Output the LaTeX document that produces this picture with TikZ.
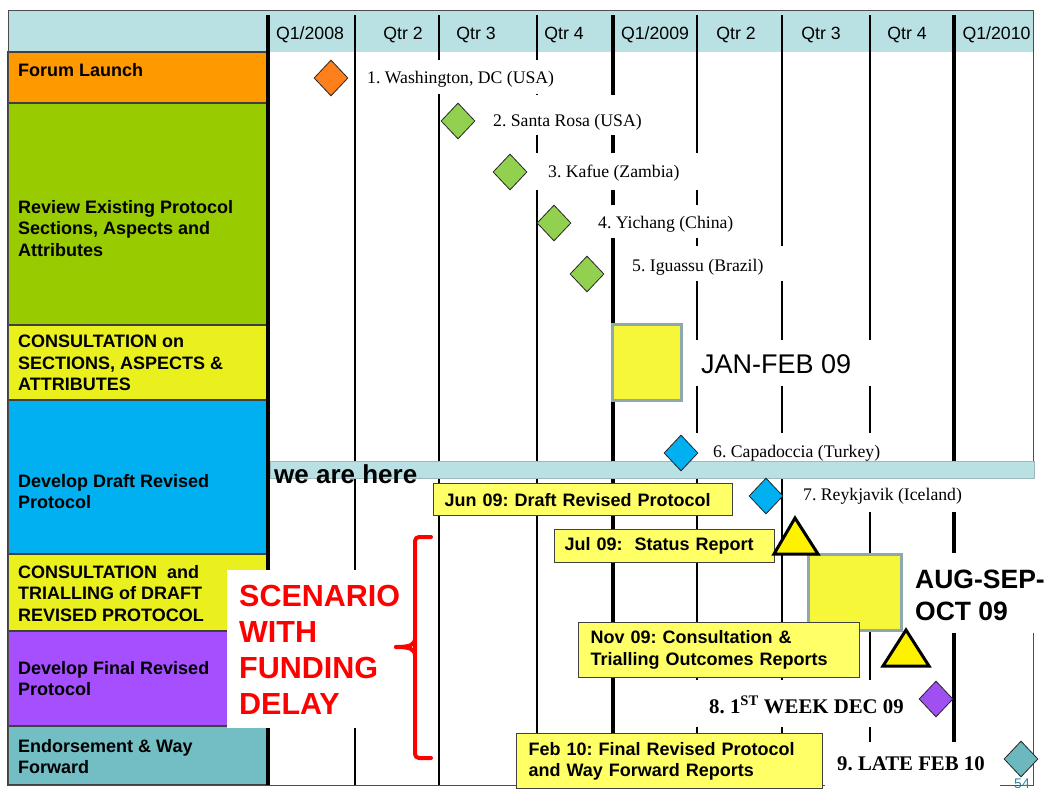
\documentclass[tikz,border=0pt]{standalone}
\usepackage{fontspec}
\setmainfont{Liberation Serif}
\setsansfont{Liberation Sans}
\usetikzlibrary{shapes.geometric}
\definecolor{hdrc}{HTML}{B9E0E3}
\definecolor{corange}{HTML}{FF9900}
\definecolor{cgreen}{HTML}{99CC00}
\definecolor{cyellow}{HTML}{EAEF1E}
\definecolor{cblue}{HTML}{00B0F0}
\definecolor{cpurple}{HTML}{A64FFF}
\definecolor{cteal}{HTML}{73BEC4}
\definecolor{dorange}{HTML}{FF7F1A}
\definecolor{dgreen}{HTML}{92D050}
\definecolor{dblue}{HTML}{00B0F0}
\definecolor{dpurple}{HTML}{A050F0}
\definecolor{dteal}{HTML}{6BB8BE}
\definecolor{sqyel}{HTML}{F7F73A}
\definecolor{sqedge}{HTML}{8FA8AC}
\definecolor{lblyel}{HTML}{FFFF66}
\definecolor{pagenum}{HTML}{31849B}
\definecolor{baredge}{HTML}{9DB9BC}
\frenchspacing
\begin{document}
\begin{tikzpicture}[x=1pt,y=-1pt,
  cell/.style={draw=black!75, line width=1.2pt},
  celltext/.style={font=\sffamily\bfseries\fontsize{18}{21.5}\selectfont, anchor=north west, inner sep=0pt, align=left},
  hdr/.style={font=\sffamily\fontsize{17.7}{20}\selectfont, anchor=base, inner sep=0pt},
  vthin/.style={line width=2pt},
  vthick/.style={line width=4pt},
  place/.style={font=\rmfamily\fontsize{17.7}{20}\selectfont, anchor=base west, inner sep=0pt},
  diam/.style={shape=diamond, draw=black!85, line width=0.8pt, minimum width=34pt, minimum height=36pt, inner sep=0pt},
  ysq/.style={fill=sqyel, draw=sqedge, line width=3pt},
  ybox/.style={fill=lblyel, draw=black!75, line width=1.2pt, anchor=north west, align=left,
     font=\sffamily\bfseries\fontsize{18}{21.5}\selectfont},
  tri/.style={fill=yellow, draw=black, line width=3pt, line join=miter},
  bigtext/.style={font=\sffamily\bfseries\fontsize{26.5}{32}\selectfont, anchor=base west, inner sep=0pt, align=left},
  serifbold/.style={font=\rmfamily\bfseries\fontsize{20.8}{24}\selectfont, anchor=base west, inner sep=0pt},
  redtext/.style={font=\sffamily\bfseries\fontsize{30.5}{35.7}\selectfont, text=red, anchor=base west, inner sep=0pt, align=left},
  bracestyle/.style={draw=red, line width=4pt, line cap=round, line join=round}
]
\useasboundingbox (0,0) rectangle (1049,790);
% header
\fill[hdrc] (8,10) rectangle (1033,52);
% left cells
\filldraw[cell, fill=corange] (8,52) rectangle (268,103);
\filldraw[cell, fill=cgreen] (8,103) rectangle (268,325);
\filldraw[cell, fill=cyellow] (8,325) rectangle (268,400);
\filldraw[cell, fill=cblue] (8,400) rectangle (268,554);
\filldraw[cell, fill=cyellow] (8,554) rectangle (268,631);
\filldraw[cell, fill=cpurple] (8,631) rectangle (268,726);
\filldraw[cell, fill=cteal] (8,726) rectangle (268,785);
% vertical lines
\draw[vthick] (268,15) -- (268,785);
\draw[vthin] (355,15) -- (355,785);
\draw[vthin] (439,15) -- (439,785);
\draw[vthin] (537,15) -- (537,785);
\draw[vthick] (613,15) -- (613,785);
\draw[vthin] (697,15) -- (697,785);
\draw[vthin] (782,15) -- (782,785);
\draw[vthin] (870,15) -- (870,785);
\draw[vthick] (954,15) -- (954,785);
% outer border
\draw[black!70, line width=1pt] (8,10) rectangle (1033,785);
% header texts
\node[hdr] (h1) at (310,39.5) {Q1/2008};
\node[hdr] (h2) at (403,39.5) {Qtr 2};
\node[hdr] (h3) at (476,39.5) {Qtr 3};
\node[hdr] (h4) at (564,39.5) {Qtr 4};
\node[hdr] (h5) at (655,39.5) {Q1/2009};
\node[hdr] (h6) at (736,39.5) {Qtr 2};
\node[hdr] (h7) at (821,39.5) {Qtr 3};
\node[hdr] (h8) at (907,39.5) {Qtr 4};
\node[hdr] (h9) at (996.5,39.5) {Q1/2010};
% left cell texts
\node[celltext] (t1) at (18,63) {Forum Launch};
\node[celltext] (t2) at (18,200) {Review Existing Protocol\\Sections, Aspects and\\Attributes};
\node[celltext] (t3) at (18,335) {CONSULTATION on\\SECTIONS, ASPECTS \&\\ATTRIBUTES};
\node[celltext] (t4) at (18,474) {Develop Draft Revised\\Protocol};
\node[celltext] (t5) at (18,565) {CONSULTATION\ \ and\\TRIALLING of DRAFT\\REVISED PROTOCOL};
\node[celltext] (t6) at (18,661) {Develop Final Revised\\Protocol};
\node[celltext] (t7) at (18,739) {Endorsement \& Way\\Forward};
% white backgrounds of labels
\fill[white] (356,60) rectangle (566,94);
\fill[white] (470,95) rectangle (660,135);
\fill[white] (528,153) rectangle (705,190);
\fill[white] (598,205) rectangle (742,238);
\fill[white] (620,246) rectangle (785,281);
\fill[white] (690,340) rectangle (885,386);
\fill[white] (695,433) rectangle (895,461);
\fill[white] (790,479) rectangle (1040,512);
\fill[white] (1025,479) rectangle (1040,553);
\fill[white] (905,553) rectangle (1049,633);
\fill[white] (695,680) rectangle (915,727);
\fill[white] (825,742) rectangle (1000,786);
\fill[white] (227,570) rectangle (405,728);
% place labels
\node[place] (p1) at (367,83) {1. Washington, DC (USA)};
\node[place] (p2) at (493,126) {2. Santa Rosa (USA)};
\node[place] (p3) at (548,177) {3. Kafue (Zambia)};
\node[place] (p4) at (598,228) {4. Yichang (China)};
\node[place] (p5) at (632,271) {5. Iguassu (Brazil)};
\node[place] (p6) at (713,457) {6. Capadoccia (Turkey)};
\node[place] (p7) at (803,500) {7. Reykjavik (Iceland)};
% yellow squares
\draw[ysq] (612,324) rectangle (681,400);
\draw[ysq] (808,554) rectangle (901,630);
\node[font=\sffamily\fontsize{27}{32}\selectfont, anchor=base west, inner sep=0pt] (jan) at (701,373) {JAN-FEB 09};
\node[bigtext] (aug) at (915,620) {AUG-SEP-\\OCT 09};
% we are here bar
\filldraw[fill=hdrc, draw=baredge, line width=1pt] (270,461) rectangle (1034,478);
\node[font=\sffamily\bfseries\fontsize{26}{30}\selectfont, anchor=base west, inner sep=0pt] (here) at (274,483) {we are here};
% yellow label boxes
\node[ybox, inner xsep=11pt, text width=277pt, minimum height=32pt] (jun) at (433,483) {Jun 09: Draft Revised Protocol};
\node[ybox, inner xsep=10pt, text width=200pt, minimum height=33pt] (jul) at (554,529) {Jul 09:\ \ Status Report};
\draw[tri] (774,554) -- (795,518) -- (818,554) -- cycle;
\node[ybox, inner xsep=12pt, text width=257pt, minimum height=55pt] (nov) at (578,622) {Nov 09: Consultation \&\\Trialling Outcomes Reports};
\draw[tri] (883,666) -- (906,630) -- (929,666) -- cycle;
\node[ybox, inner xsep=12pt, text width=282pt, minimum height=55pt] (feb) at (516,733) {Feb 10: Final Revised Protocol\\and Way Forward Reports};
\node[serifbold] (m8) at (709,713) {8. 1\textsuperscript{ST} WEEK DEC 09};
\node[serifbold] (m9) at (837,770) {9. LATE FEB 10};
% diamonds
\node[diam, fill=dorange] (d1) at (331,78) {};
\node[diam, fill=dgreen] (d2) at (458,121) {};
\node[diam, fill=dgreen] (d3) at (510,172) {};
\node[diam, fill=dgreen] (d4) at (554,223) {};
\node[diam, fill=dgreen] (d5) at (587,274) {};
\node[diam, fill=dblue] (d6) at (681,453) {};
\node[diam, fill=dblue] (d7) at (766,496) {};
\node[diam, fill=dpurple] (d8) at (936,699) {};
\node[diam, fill=dteal] (d9) at (1021,759) {};
% scenario
\node[redtext] (scen) at (239,714) {SCENARIO\\WITH\\FUNDING\\DELAY};
\draw[bracestyle, rounded corners=4pt] (431,537) -- (415,537) -- (415,758) -- (431,758);
\draw[bracestyle] (396,647) .. controls (410,647) and (415,645) .. (415,638);
\draw[bracestyle] (396,647) .. controls (410,647) and (415,649) .. (415,656);
% page number
\node[font=\sffamily\fontsize{14}{16}\selectfont, text=pagenum, anchor=base, inner sep=0pt] (pg) at (1022,788.5) {54};
\end{tikzpicture}
\end{document}
